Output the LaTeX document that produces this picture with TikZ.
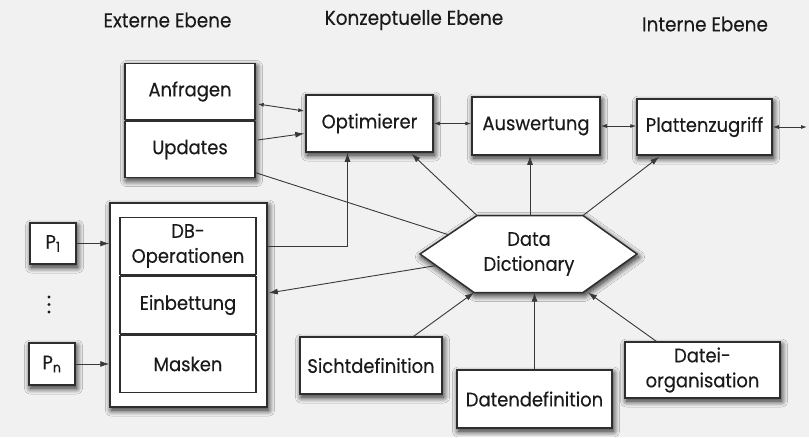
\documentclass[tikz,border=0pt]{standalone}
\usepackage{fontspec}
\setmainfont{Poppins}[FakeStretch=0.92,FakeBold=0.3]
\usetikzlibrary{arrows.meta,shadows.blur,calc}

\definecolor{paper}{HTML}{F1F1F1}
\definecolor{boxline}{HTML}{2E2E2E}
\definecolor{wire}{HTML}{383838}
\definecolor{ink}{HTML}{1A1A1A}

\begin{document}
\begin{tikzpicture}[x=1pt,y=-1pt,
  shade box/.style={blur shadow={shadow xshift=1.5pt,shadow yshift=-3pt,
      shadow blur radius=6pt,shadow blur steps=12,shadow opacity=90}},
  box/.style={draw=boxline,line width=1.5pt,fill=white,text=ink,inner sep=2pt,
      font=\fontsize{19.5}{25}\selectfont,align=center},
  head/.style={text=ink,font=\fontsize{20}{22}\selectfont,inner sep=0pt},
  wirestyle/.style={draw=wire,line width=0.9pt},
  arr/.style={wirestyle,-{Latex[length=9pt,width=6pt]}},
  darr/.style={wirestyle,{Latex[length=6pt,width=4pt]}-{Latex[length=6pt,width=4pt]}}]

\useasboundingbox[fill=paper] (0,0) rectangle (809,437);

% level headings
\node[head] (hExt) at (167.5,20) {Externe Ebene};
\node[head] (hKon) at (414,20) {Konzeptuelle Ebene};
\node[head] (hInt) at (705,24) {Interne Ebene};

% external level: queries and updates
\fill[boxline,shade box] (125,63.5) rectangle (255,177.5);
\node[box,minimum width=130,minimum height=56] (anf) at (190,91.5) {Anfragen};
\node[box,minimum width=130,minimum height=56] (upd) at (190,149.5) {Updates};

% application programs
\node[box,shade box,minimum width=46,minimum height=41,font=\fontsize{19.5}{20}\selectfont] (p1) at (53,243.5) {P\textsubscript{1}};
\node[box,shade box,minimum width=46,minimum height=42,font=\fontsize{19.5}{20}\selectfont] (pn) at (52,364) {P\textsubscript{n}};
\fill[ink] (49,297) circle (1.7) (49,304.5) circle (1.7) (49,312) circle (1.7);

% embedding container
\node[box,shade box,minimum width=157,minimum height=204] (outer) at (188.5,305) {};
\fill[boxline] (120,217.5) rectangle (256,392.5);
\node[box,minimum width=136,minimum height=57] (dbop) at (188,246) {DB-\\Operationen};
\node[box,minimum width=136,minimum height=57] (einb) at (188,305) {Einbettung};
\node[box,minimum width=136,minimum height=57] (mask) at (188,364) {Masken};

% conceptual and internal level
\node[box,shade box,minimum width=127,minimum height=57] (opt) at (369.5,123.5) {Optimierer};
\node[box,shade box,minimum width=128,minimum height=58] (ausw) at (536,126) {Auswertung};
\node[box,shade box,minimum width=135,minimum height=56] (platt) at (704.5,127) {Plattenzugriff};
\coordinate (out) at (807,127);

% data dictionary hexagon
\coordinate (hL)  at (420,254);
\coordinate (hTL) at (477,215.5);
\coordinate (hTR) at (583,215.5);
\coordinate (hR)  at (637,254);
\coordinate (hBR) at (583,292.5);
\coordinate (hBL) at (474,292.5);
\draw[draw=boxline,line width=1.5pt,fill=white,shade box] (hL) -- (hTL) -- (hTR) -- (hR) -- (hBR) -- (hBL) -- cycle;
\node[text=ink,font=\fontsize{19.5}{25}\selectfont,align=center] (dd) at (529,254) {Data\\Dictionary};

% definitions feeding the dictionary
\node[box,shade box,minimum width=142,minimum height=57] (sicht) at (371,365.5) {Sichtdefinition};
\node[box,shade box,minimum width=155,minimum height=58] (daten) at (534.5,399) {Datendefinition};
\node[box,shade box,minimum width=155,minimum height=56] (datei) at (702.5,370) {Datei-\\organisation};

% connectors
\draw[darr] ($(anf.east)+(2,12.5)$) -- ($(opt.west)+(-1,-12.5)$);
\draw[arr] ($(upd.east)+(2,-9.5)$) -- ($(opt.west)+(-1,10)$);
\draw[wirestyle] ($(upd.south east)+(0,-5.5)$) -- ($(hL)!0.5!(hTL)$);
\draw[darr] (opt.east) -- (opt.east -| ausw.west);
\draw[darr] (ausw.east) -- (ausw.east -| platt.west);
\draw[darr] (platt.east) -- (platt.east -| out);

\draw[arr] (hTL) -- ($(opt.south)+(42,1)$);
\coordinate (ddtop) at ($(hTL)!0.5!(hTR)$);
\draw[arr] (ddtop) -- (ddtop |- ausw.south);
\draw[arr] (hTR) -- ($(platt.south west)+(23,1)$);

\draw[arr] (outer.east |- dbop.east) -| ($(opt.south)+(-22,0)$);
\draw[arr] ($(hL)!0.3!(hBL)$) -- ($(outer.east)+(1,-12)$);

\draw[arr] (p1.east) -- (p1.east -| outer.west);
\draw[arr] (pn.east) -- (pn.east -| outer.west);

\draw[arr] ($(sicht.north east)+(-29,0)$) -- (hBL);
\draw[arr] (daten.north) -- (daten.north |- hBL);
\draw[arr] ($(datei.north west)+(32,0)$) -- ($(hBR)+(5,0)$);

\end{tikzpicture}
\end{document}
